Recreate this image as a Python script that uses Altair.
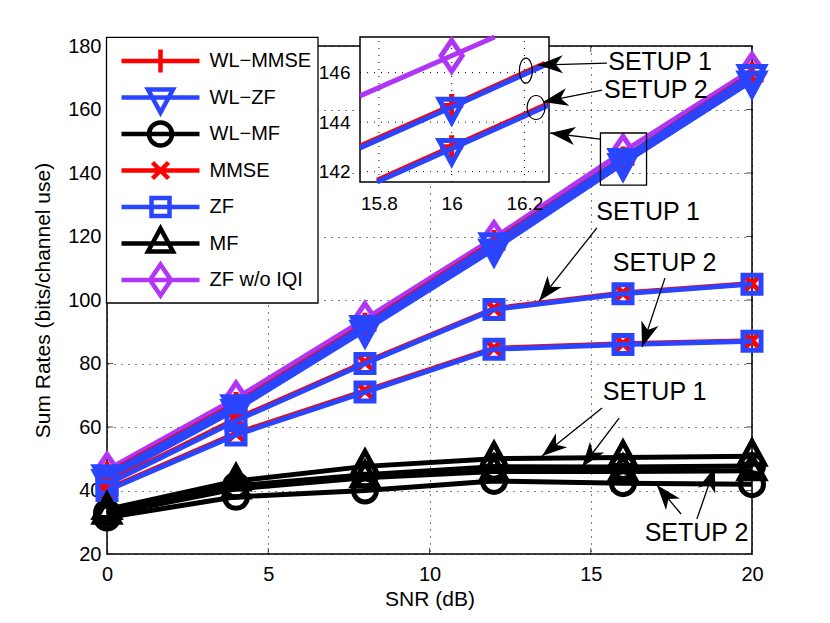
import math
import pandas as pd
import altair as alt

FONT = "Liberation Sans"

snr = [0, 4, 8, 12, 16, 20]

# setup 1 / setup 2 curves
wl_mmse_1 = [45.4, 67.4, 92.4, 118.4, 144.7, 171.3]
wl_mmse_2 = [43.8, 65.8, 90.8, 116.3, 143.1, 169.3]
wl_zf_1 = [45, 67, 92, 118, 144.6, 171]
wl_zf_2 = [43.5, 65.5, 90.5, 116, 143, 169]
wl_mf_1 = [33, 41.5, 45, 47.5, 47.4, 47.7]
wl_mf_2 = [31.5, 38, 40, 43, 42.3, 42]
mmse_1 = [42.4, 62.5, 80.4, 97.3, 102.2, 105.2]
mmse_2 = [40.4, 58, 71.4, 84.8, 86.2, 87.2]
zf_1 = [42, 62, 80, 97, 102, 105]
zf_2 = [40, 57.5, 71, 84.5, 86, 87]
mf_1 = [34, 43, 47.6, 50, 50.4, 50.8]
mf_2 = [32.5, 40.5, 44, 46, 46, 46.2]
zf_no_iqi = [46.5, 69, 94, 119.5, 146.7, 172.5]

# inset curves (ends are where they leave the inset box)
inset_no_iqi_x = [15.748, 16, 16.118]
inset_no_iqi_y = [145.06, 146.68, 147.44]
inset_zf1_x = [15.748, 16, 16.257]
inset_zf1_y = [142.96, 144.6, 146.31]
inset_zf2_x = [15.795, 16, 16.2676]
inset_zf2_y = [141.58, 142.93, 144.69]
inset_red_shift = 0.07

x_ticks = [0, 5, 10, 15, 20]
y_ticks = [20, 40, 60, 80, 100, 120, 140, 160, 180]
inset_x_ticks = [15.8, 16, 16.2]
inset_y_ticks = [142, 144, 146]
inset_x_domain = [15.748, 16.2676]
inset_y_domain = [141.58, 147.44]

names = ["WL\u2212MMSE", "WL\u2212ZF", "WL\u2212MF", "MMSE", "ZF", "MF", "ZF w/o IQI"]
colors = ["#ff0000", "#2a45ff", "#000000", "#ff0000", "#2a45ff", "#000000", "#b135f5"]

# annotations in data units of the main axes
label_text = ["SETUP 1", "SETUP 2", "SETUP 1", "SETUP 2", "SETUP 1", "SETUP 2"]
label_x = [17.15, 17.02, 16.78, 17.29, 16.98, 18.28]
label_y = [175, 166.1, 127.7, 111.7, 71, 26.6]
arrow_x0 = [15.50, 15.35, 15.29, 15.19, 17.30, 15.35, 15.88, 17.80, 18.29]
arrow_y0 = [174.6, 166.1, 150.7, 122.7, 106.9, 66, 62.8, 32.6, 31]
arrow_x1 = [13.36, 13.52, 13.74, 13.40, 16.59, 13.49, 14.73, 17.05, 18.85]
arrow_y1 = [174, 162.4, 152.6, 99.7, 85.2, 50.9, 47.4, 41.7, 47.4]

W, H = 645, 508

# marker outlines, size=4 makes the numbers pixels
PX = 4
PLUS = "M-11.5,0H11.5M0,-11.5V11.5"
TRI_DOWN = "M-12.5,-8H12.5L0,15Z"
CIRCLE = "M-11.5,0A11.5,11.5 0 1,1 11.5,0A11.5,11.5 0 1,1 -11.5,0Z"
CROSS = "M-8,-8L8,8M-8,8L8,-8"
SQUARE = "M-9,-9H9V9H-9Z"
TRI_UP = "M-12.5,8H12.5L0,-15Z"
DIAMOND = "M0,-15.5L10.5,0L0,15.5L-10.5,0Z"
ARROW = "M0,0L9,25L0,18L-9,25Z"
ELL_1 = "M-6.5,0A6.5,12.5 0 1,1 6.5,0A6.5,12.5 0 1,1 -6.5,0Z"
ELL_2 = "M-9,0A9,12 0 1,1 9,0A9,12 0 1,1 -9,0Z"
markers = [PLUS, TRI_DOWN, CIRCLE, CROSS, SQUARE, TRI_UP, DIAMOND]
legend_shapes = ["M-39,0H39" + m for m in markers]

x_scale = alt.Scale(domain=[0, 20], nice=False, zero=False)
y_scale = alt.Scale(domain=[20, 180], nice=False, zero=False)
ix_scale = alt.Scale(domain=inset_x_domain, range=[253, 442], nice=False, zero=False)
iy_scale = alt.Scale(domain=inset_y_domain, range=[136, -9], nice=False, zero=False)


def curve(xs, ys, color, shape, x_sc=x_scale, y_sc=y_scale, mark_at=None):
    d = pd.DataFrame({"x": xs, "y": ys})
    x = alt.X("x:Q", scale=x_sc, axis=None)
    y = alt.Y("y:Q", scale=y_sc, axis=None)
    line = alt.Chart(d).mark_line(color=color, strokeWidth=5).encode(x=x, y=y)
    dots = d if mark_at is None else d[d.x == mark_at]
    pts = alt.Chart(dots).mark_point(
        shape=shape, size=PX, color=color, filled=False, opacity=1,
        strokeWidth=5, strokeJoin="miter"
    ).encode(x=x, y=y)
    return line, pts


# Grid and the frame ticks
axis_style = dict(grid=True, gridColor="black", gridDash=[1, 6], gridWidth=1, gridOpacity=1,
                  ticks=False, domain=False, labelFont=FONT, labelFontSize=20, labelColor="black",
                  labelFlush=False, labelOverlap=False,
                  titleFont=FONT, titleFontSize=21, titleColor="black", titleFontWeight="normal")
frame = alt.Chart(pd.DataFrame({"x": [0.0], "y": [20.0]})).mark_point(opacity=0).encode(
    x=alt.X("x:Q", scale=x_scale, title="SNR (dB)",
            axis=alt.Axis(values=x_ticks, orient="bottom", labelPadding=10, titlePadding=4, **axis_style)),
    y=alt.Y("y:Q", scale=y_scale, title="Sum Rates (bits/channel use)",
            axis=alt.Axis(values=y_ticks, orient="left", labelPadding=6, titlePadding=14, **axis_style)),
)
y_tick_df = pd.DataFrame([{"x": e, "y": v} for e in [0, 20] for v in y_ticks])
x_tick_df = pd.DataFrame([{"x": v, "y": e} for e in [20, 180] for v in x_ticks])
y_frame_ticks = alt.Chart(y_tick_df).mark_tick(orient="horizontal", size=12, thickness=1, color="black", clip=True).encode(
    x=alt.X("x:Q", scale=x_scale, axis=None), y=alt.Y("y:Q", scale=y_scale, axis=None))
x_frame_ticks = alt.Chart(x_tick_df).mark_tick(orient="vertical", size=12, thickness=1, color="black", clip=True).encode(
    x=alt.X("x:Q", scale=x_scale, axis=None), y=alt.Y("y:Q", scale=y_scale, axis=None))

# purple goes down first, the rest in legend order
series = [
    (zf_no_iqi, 6), (wl_mmse_1, 0), (wl_mmse_2, 0), (wl_zf_1, 1), (wl_zf_2, 1),
    (wl_mf_1, 2), (wl_mf_2, 2), (mmse_1, 3), (mmse_2, 3), (zf_1, 4), (zf_2, 4),
    (mf_1, 5), (mf_2, 5),
]
layers = [frame, y_frame_ticks, x_frame_ticks]
for vals, i in series:
    layers.extend(curve(snr, vals, colors[i], markers[i]))

# zoom box on the main axes
box = alt.Chart(pd.DataFrame({"x": [15.3], "x2": [16.73], "y": [136.2], "y2": [152.6]})).mark_rect(
    fillOpacity=0, stroke="black", strokeWidth=1.3
).encode(x=alt.X("x:Q", scale=x_scale, axis=None), x2="x2:Q", y=alt.Y("y:Q", scale=y_scale, axis=None), y2="y2:Q")
layers.append(box)

# legend frame: vega's own box comes out lopsided with the tight rows
legend_box = alt.Chart(pd.DataFrame({"x": [-0.0155], "x2": [6.543], "y": [99.06], "y2": [182.7]})).mark_rect(
    fill="white", stroke="black", strokeWidth=1.3
).encode(x=alt.X("x:Q", scale=x_scale, axis=None), x2="x2:Q", y=alt.Y("y:Q", scale=y_scale, axis=None), y2="y2:Q")
layers.append(legend_box)

# real legend, fed by an empty layer with explicit domains
legend_layer = alt.Chart(pd.DataFrame({"name": names})).transform_filter("false").mark_point(
    filled=False, opacity=1, size=PX
).encode(
    color=alt.Color("name:N", scale=alt.Scale(domain=names, range=colors), legend=alt.Legend(
        orient="none", legendX=-0.5, legendY=0, title=None, padding=5, gridAlign="all",
        labelFont=FONT, labelFontSize=20, labelColor="black", labelOffset=39,
        symbolOffset=39, symbolSize=PX, symbolStrokeWidth=4.5, rowPadding=-13.5, symbolLimit=0,
    )),
    shape=alt.Shape("name:N", scale=alt.Scale(domain=names, range=legend_shapes)),
)
layers.append(legend_layer)

# Inset
ix = alt.X("x:Q", scale=ix_scale, axis=None)
iy = alt.Y("y:Q", scale=iy_scale, axis=None)
inset_bg = alt.Chart(pd.DataFrame({"x": [inset_x_domain[0]], "x2": [inset_x_domain[1]],
                                   "y": [inset_y_domain[0]], "y2": [inset_y_domain[1]]})).mark_rect(
    fill="white", stroke="black", strokeWidth=1.5
).encode(
    x=alt.X("x:Q", scale=ix_scale, axis=alt.Axis(
        values=inset_x_ticks, orient="bottom", offset=136 - H, title=None, zindex=1, ticks=False, domain=False,
        grid=False, labelFont=FONT, labelFontSize=19, labelColor="black", labelPadding=12, format=".4~f")),
    x2="x2:Q",
    y=alt.Y("y:Q", scale=iy_scale, axis=alt.Axis(
        values=inset_y_ticks, orient="left", offset=-253, title=None, zindex=1, ticks=False, domain=False,
        grid=False, labelFont=FONT, labelFontSize=19, labelColor="black", labelPadding=10)),
    y2="y2:Q",
)
inset_grid_v = alt.Chart(pd.DataFrame({"x": inset_x_ticks, "y": inset_y_domain[0], "y2": inset_y_domain[1]})).mark_rule(
    color="black", strokeDash=[1, 6], strokeWidth=1).encode(x=ix, y=iy, y2="y2:Q")
inset_grid_h = alt.Chart(pd.DataFrame({"y": inset_y_ticks, "x": inset_x_domain[0], "x2": inset_x_domain[1]})).mark_rule(
    color="black", strokeDash=[1, 6], strokeWidth=1).encode(x=ix, x2="x2:Q", y=iy)

layers.extend([inset_bg, inset_grid_v, inset_grid_h])
for xs, ys in [(inset_zf1_x, inset_zf1_y), (inset_zf2_x, inset_zf2_y)]:
    shifted = [min(v + inset_red_shift, inset_y_domain[1]) for v in ys]
    layers.extend(curve(xs, shifted, colors[0], PLUS, ix_scale, iy_scale, mark_at=16))
layers.extend(curve(inset_no_iqi_x, inset_no_iqi_y, colors[6], DIAMOND, ix_scale, iy_scale, mark_at=16))
for xs, ys in [(inset_zf1_x, inset_zf1_y), (inset_zf2_x, inset_zf2_y)]:
    layers.extend(curve(xs, ys, colors[1], TRI_DOWN, ix_scale, iy_scale, mark_at=16))

ell = alt.Chart(pd.DataFrame({"x": [16.204], "y": [146.08]})).mark_point(
    shape=ELL_1, size=PX, color="black", filled=False, opacity=1, strokeWidth=1.2).encode(x=ix, y=iy)
ell2 = alt.Chart(pd.DataFrame({"x": [16.232], "y": [144.59]})).mark_point(
    shape=ELL_2, size=PX, color="black", filled=False, opacity=1, strokeWidth=1.2).encode(x=ix, y=iy)
layers.extend([ell, ell2])

# Arrows and labels sit on top of the inset
arrows = pd.DataFrame({"x": arrow_x0, "y": arrow_y0, "x2": arrow_x1, "y2": arrow_y1})
arrows["angle"] = [
    math.degrees(math.atan2((a - c) * W / 20, (b - d) * H / 160)) % 360
    for a, b, c, d in zip(arrow_x1, arrow_y1, arrow_x0, arrow_y0)
]
ax = alt.X("x:Q", scale=x_scale, axis=None)
ay = alt.Y("y:Q", scale=y_scale, axis=None)
shafts = alt.Chart(arrows).mark_rule(color="black", strokeWidth=1.3).encode(x=ax, y=ay, x2="x2:Q", y2="y2:Q")
heads = alt.Chart(arrows).mark_point(
    shape=ARROW, size=PX, color="black", filled=True, opacity=1
).encode(x=alt.X("x2:Q", scale=x_scale, axis=None), y=alt.Y("y2:Q", scale=y_scale, axis=None),
         angle=alt.Angle("angle:Q", scale=None))
labels = alt.Chart(pd.DataFrame({"x": label_x, "y": label_y, "t": label_text})).mark_text(
    font=FONT, fontSize=25, color="black"
).encode(x=ax, y=ay, text="t:N")
layers.extend([shafts, heads, labels])

chart = alt.layer(*layers).resolve_scale(x="independent", y="independent").properties(
    width=W, height=H,
    padding={"left": 99, "top": 38, "right": 60, "bottom": 58},
    autosize=alt.AutoSizeParams(type="none"),
).configure_view(stroke="black", strokeWidth=1.5)

chart.save("out.html", embed_options={"renderer": "svg", "actions": False})
